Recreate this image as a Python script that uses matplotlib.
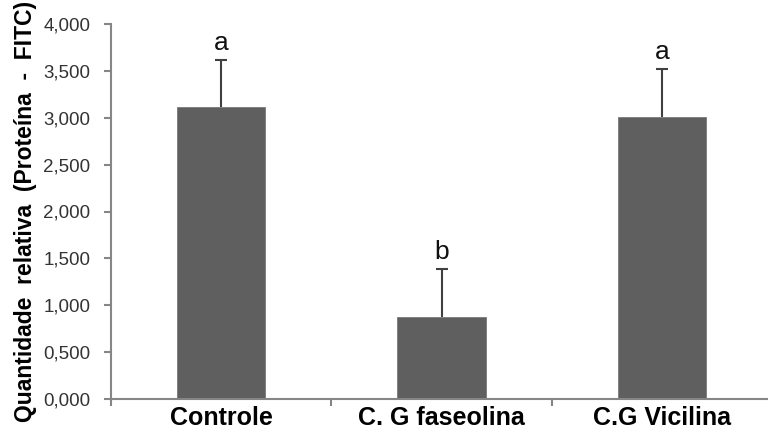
import matplotlib

matplotlib.use("Agg")
import matplotlib.pyplot as plt
from matplotlib.ticker import FuncFormatter, MultipleLocator

# values
groups = ["Controle", "C. G faseolina", "C.G Vicilina"]
means = [3.12, 0.875, 3.01]
errors = [0.50, 0.51, 0.51]
letters = ["a", "b", "a"]

plt.rcParams["font.family"] = ["Liberation Sans", "DejaVu Sans"]

fig = plt.figure(figsize=(7.68, 4.33), dpi=100)
# right edge of the plot runs a little past the image edge, as in the reference
ax = fig.add_axes([111 / 768, 34 / 433, 661 / 768, 375 / 433])

axis_grey = "#868686"
x = range(len(groups))
ax.bar(x, means, width=0.4, color="#5f5f5f", edgecolor="#7a7a7a", linewidth=0.6, zorder=2)
_, caps, _ = ax.errorbar(x, means, yerr=[[0] * len(errors), errors], fmt="none",
                         ecolor="#404040", elinewidth=1.5, capsize=4.5, capthick=1.5, zorder=3)
caps[0].set_visible(False)  # upper error only, no cap on the bar top

for xi, m, e, lab in zip(x, means, errors, letters):
    ax.text(xi, m + e + 0.05, lab, ha="center", va="bottom", fontsize=19, color="#111111")

ax.set_xlim(-0.5, 2.5)
ax.set_ylim(0, 4)
ax.yaxis.set_major_locator(MultipleLocator(0.5))
ax.yaxis.set_major_formatter(FuncFormatter(lambda v, _: f"{v:.3f}".replace(".", ",")))

ax.set_xticks(list(x))
ax.set_xticklabels(groups, fontsize=18, fontweight="bold")
ax.set_xticks([-0.5, 0.5, 1.5, 2.5], minor=True)
ax.tick_params(axis="x", which="major", length=0, pad=5)
ax.tick_params(axis="x", which="minor", length=5, width=1.5, color=axis_grey)
ax.tick_params(axis="y", length=5, width=1.5, color=axis_grey, labelsize=13.5,
               labelcolor="#333333", pad=10)

ax.set_ylabel("Quantidade  relativa  (Proteína  -  FITC)", fontsize=16.5,
              fontweight="bold", labelpad=4)

for side in ["top", "right"]:
    ax.spines[side].set_visible(False)
for side in ["left", "bottom"]:
    ax.spines[side].set_color(axis_grey)
    ax.spines[side].set_linewidth(1.5)

fig.savefig("out.png", dpi=100)
